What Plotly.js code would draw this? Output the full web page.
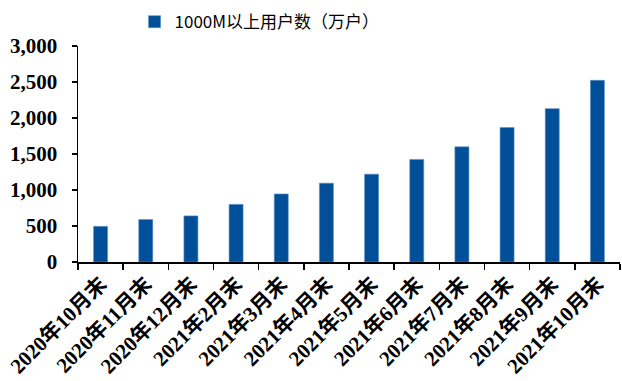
<!DOCTYPE html>
<html>
<head>
<meta charset="utf-8">
<script src="https://cdn.plot.ly/plotly-3.0.1.min.js"></script>
<style>html,body{margin:0;padding:0;background:#fff;}#chart{width:622px;height:381px;}</style>
</head>
<body>
<div id="chart"></div>
<script>
const categories = ["2020年10月末","2020年11月末","2020年12月末","2021年2月末","2021年3月末","2021年4月末","2021年5月末","2021年6月末","2021年7月末","2021年8月末","2021年9月末","2021年10月末"];
const users = [495, 590, 640, 800, 945, 1095, 1220, 1425, 1600, 1868, 2130, 2523];
const seriesName = "1000M以上用户数（万户）";
const yTicks = [0, 500, 1000, 1500, 2000, 2500, 3000];

const serif = "'Liberation Serif', 'Times New Roman', 'Noto Sans CJK SC', serif";
const trace = {
  type: 'bar',
  x: categories,
  y: users,
  name: seriesName,
  marker: {color: '#004F98', line: {color: '#5B8FC7', width: 0.6}},
  showlegend: true
};
const layout = {
  width: 622, height: 381,
  margin: {l: 77.5, r: 2, t: 46, b: 119, autoexpand: false},
  paper_bgcolor: '#fff', plot_bgcolor: '#fff',
  bargap: 0.69,
  showlegend: true,
  legend: {
    orientation: 'h', x: 0.335, xanchor: 'center',
    yref: 'container', y: 0.942, yanchor: 'middle',
    font: {family: "'Noto Sans CJK SC', sans-serif", size: 17, color: '#000'},
    itemwidth: 20
  },
  xaxis: {
    type: 'category',
    tickson: 'boundaries',
    ticks: 'outside', ticklen: 6, tickwidth: 1.5, tickcolor: '#000',
    showline: true, linecolor: '#000', linewidth: 1.5,
    tickangle: -45,
    automargin: false,
    tickfont: {family: serif, size: 21, color: '#000', weight: 'bold'},
    showgrid: false, zeroline: false
  },
  yaxis: {
    range: [0, 3000],
    tickvals: yTicks,
    tickformat: ',',
    automargin: false,
    ticks: 'outside', ticklen: 5, tickwidth: 1.5, tickcolor: '#000',
    showline: true, linecolor: '#000', linewidth: 1.5,
    ticklabelstandoff: 10,
    tickfont: {family: serif, size: 21, color: '#000', weight: 'bold'},
    showgrid: false, zeroline: false
  }
};
Plotly.newPlot('chart', [trace], layout, {displayModeBar: false, staticPlot: true});
</script>
</body>
</html>
